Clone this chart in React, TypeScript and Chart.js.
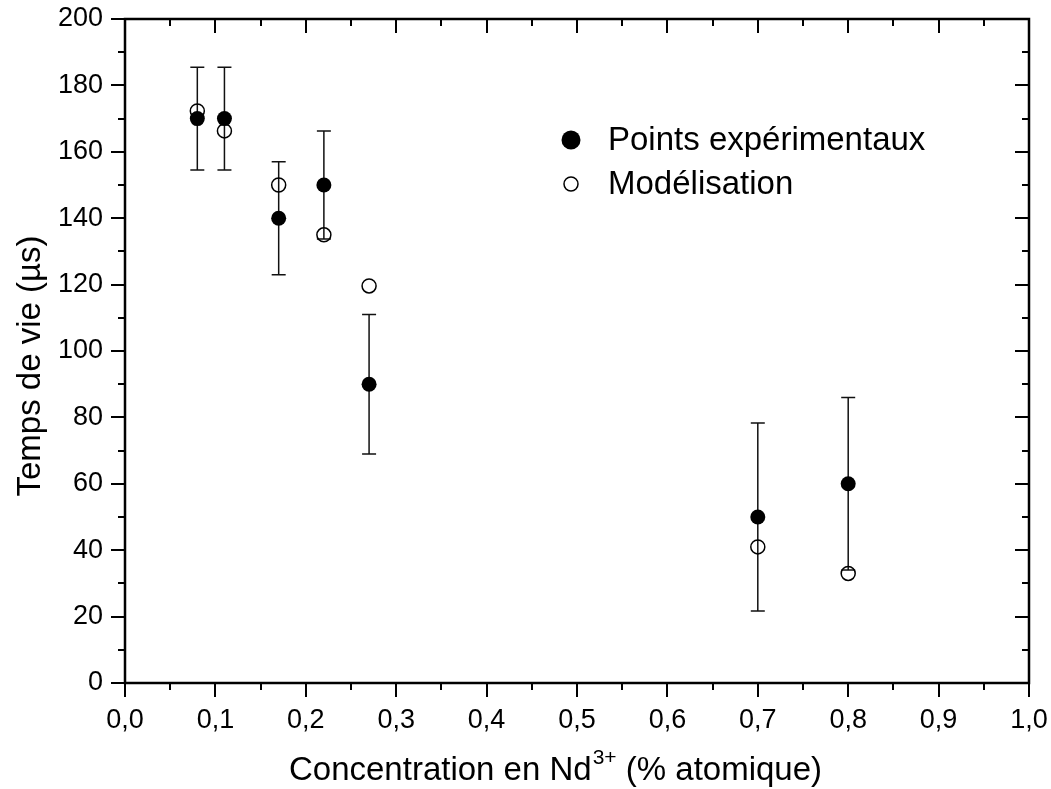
import React, { useEffect, useRef } from "react";
import { Chart, registerables } from "chart.js";

Chart.register(...registerables);

const concentrations = [0.08, 0.11, 0.17, 0.22, 0.27, 0.7, 0.8];
const experimental = [170, 170, 140, 150, 90, 50, 60];
const experimentalErrors = [15.5, 15.5, 17, 16.3, 21, 28.3, 26];
const modelisation = [172.3, 166.3, 150, 135, 119.6, 41, 33];

const legendLabels = ["Points expérimentaux", "Modélisation"];
const yTitle = "Temps de vie (µs)";
const xTitleParts = ["Concentration en Nd", "3+", " (% atomique)"];

const FONT = "'Liberation Sans', Arial, Helvetica, sans-serif";

const framePlugin = {
  id: "frameAndExtras",
  beforeDatasetsDraw(chart: any) {
    const ctx = chart.ctx;
    const xs = chart.scales.x;
    const ys = chart.scales.y;
    ctx.save();
    ctx.strokeStyle = "#111";
    ctx.lineWidth = 1.5;
    concentrations.forEach((c, i) => {
      const px = xs.getPixelForValue(c);
      const top = ys.getPixelForValue(experimental[i] + experimentalErrors[i]);
      const bot = ys.getPixelForValue(experimental[i] - experimentalErrors[i]);
      ctx.beginPath();
      ctx.moveTo(px, top);
      ctx.lineTo(px, bot);
      ctx.moveTo(px - 7, top);
      ctx.lineTo(px + 7, top);
      ctx.moveTo(px - 7, bot);
      ctx.lineTo(px + 7, bot);
      ctx.stroke();
    });
    ctx.restore();
  },
  afterDraw(chart: any) {
    const ctx = chart.ctx;
    const { left, right, top, bottom } = chart.chartArea;
    const xs = chart.scales.x;
    const ys = chart.scales.y;
    ctx.save();
    ctx.strokeStyle = "#000";
    ctx.lineWidth = 2;
    for (let k = 0; k <= 20; k++) {
      const v = k * 0.05;
      const px = Math.round(xs.getPixelForValue(v));
      const len = k % 2 === 0 ? 14 : 7;
      ctx.beginPath();
      ctx.moveTo(px, bottom);
      ctx.lineTo(px, bottom + len);
      ctx.moveTo(px, top);
      ctx.lineTo(px, top + len);
      ctx.stroke();
    }
    for (let k = 0; k <= 20; k++) {
      const v = k * 10;
      const py = Math.round(ys.getPixelForValue(v));
      const len = k % 2 === 0 ? 14 : 7;
      ctx.beginPath();
      ctx.moveTo(left, py);
      ctx.lineTo(left - len, py);
      ctx.moveTo(right, py);
      ctx.lineTo(right - len, py);
      ctx.stroke();
    }
    ctx.lineWidth = 2.5;
    ctx.strokeRect(left, top, right - left, bottom - top);

    // axis titles
    ctx.fillStyle = "#000";
    ctx.font = `33px ${FONT}`;
    ctx.textBaseline = "middle";
    ctx.textAlign = "center";
    ctx.save();
    ctx.translate(31, 366);
    ctx.rotate(-Math.PI / 2);
    ctx.fillText(yTitle, 0, 0);
    ctx.restore();

    const supFont = `21px ${FONT}`;
    const mainFont = `33px ${FONT}`;
    ctx.font = mainFont;
    const w1 = ctx.measureText(xTitleParts[0]).width;
    const w3 = ctx.measureText(xTitleParts[2]).width;
    ctx.font = supFont;
    const w2 = ctx.measureText(xTitleParts[1]).width;
    const total = w1 + w2 + w3;
    const x0 = 555 - total / 2;
    const baseY = 780;
    ctx.textAlign = "left";
    ctx.textBaseline = "alphabetic";
    ctx.font = mainFont;
    ctx.fillText(xTitleParts[0], x0, baseY);
    ctx.font = supFont;
    ctx.fillText(xTitleParts[1], x0 + w1 + 1, baseY - 16);
    ctx.font = mainFont;
    ctx.fillText(xTitleParts[2], x0 + w1 + w2 + 1, baseY);

    // legend
    ctx.font = `33px ${FONT}`;
    ctx.textBaseline = "middle";
    ctx.beginPath();
    ctx.arc(571, 140, 9.5, 0, Math.PI * 2);
    ctx.fillStyle = "#000";
    ctx.fill();
    ctx.fillText(legendLabels[0], 608, 141);
    ctx.beginPath();
    ctx.arc(571, 184, 7, 0, Math.PI * 2);
    ctx.lineWidth = 1.5;
    ctx.stroke();
    ctx.fillText(legendLabels[1], 608, 185);
    ctx.restore();
  },
};

const zeroPadding = (s: any) => {
  s.paddingLeft = 0;
  s.paddingRight = 0;
  s.paddingTop = 0;
  s.paddingBottom = 0;
};

export default function App() {
  const ref = useRef<HTMLCanvasElement | null>(null);
  useEffect(() => {
    if (!ref.current) return;
    const chart = new Chart(ref.current, {
      type: "scatter",
      data: {
        datasets: [
          {
            label: legendLabels[0],
            data: concentrations.map((c, i) => ({ x: c, y: experimental[i] })),
            pointRadius: 7.5,
            pointBackgroundColor: "#000",
            pointBorderWidth: 0,
            showLine: false,
          },
          {
            label: legendLabels[1],
            data: concentrations.map((c, i) => ({ x: c, y: modelisation[i] })),
            pointRadius: 7,
            pointBackgroundColor: "rgba(255,255,255,0)",
            pointBorderColor: "#000",
            pointBorderWidth: 1.5,
            showLine: false,
          },
        ],
      },
      options: {
        responsive: false,
        animation: false,
        layout: { padding: { left: 0, top: 19, right: 22, bottom: 0 } },
        plugins: { legend: { display: false }, tooltip: { enabled: false } },
        scales: {
          x: {
            type: "linear",
            min: 0,
            max: 1,
            grid: { display: false },
            border: { display: false },
            ticks: {
              stepSize: 0.1,
              padding: 13,
              color: "#000",
              font: { family: FONT, size: 27 },
              callback: (v: any) => Number(v).toFixed(1).replace(".", ","),
            },
            afterFit: (s: any) => {
              s.height = 106;
              zeroPadding(s);
            },
          },
          y: {
            type: "linear",
            min: 0,
            max: 200,
            grid: { display: false },
            border: { display: false },
            ticks: {
              stepSize: 20,
              padding: 14,
              color: "#000",
              font: { family: FONT, size: 27 },
            },
            afterFit: (s: any) => {
              s.width = 125;
              zeroPadding(s);
            },
          },
        },
      },
      plugins: [framePlugin],
    });
    return () => chart.destroy();
  }, []);
  return (
    <div style={{ position: "absolute", left: 0, top: 0, width: 1051, height: 789, background: "#fff" }}>
      <canvas ref={ref} width={1051} height={789} />
    </div>
  );
}
